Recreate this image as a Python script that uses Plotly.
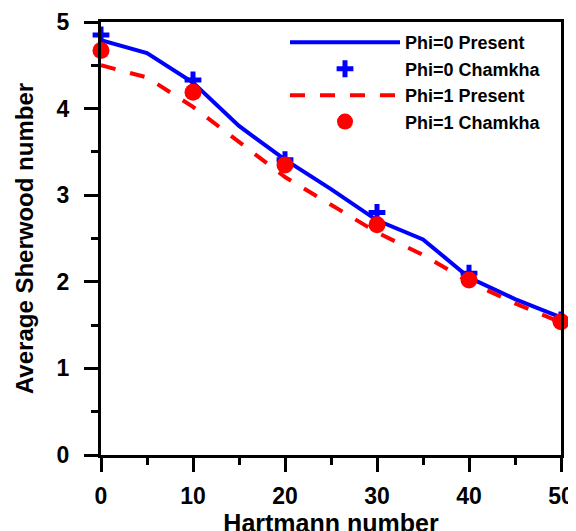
import plotly.graph_objects as go

x_line = [0, 5, 10, 15, 20, 25, 30, 35, 40, 45, 50]
phi0_present = [4.79, 4.64, 4.30, 3.80, 3.41, 3.07, 2.71, 2.49, 2.05, 1.80, 1.59]
phi1_present = [4.50, 4.36, 4.02, 3.61, 3.21, 2.89, 2.57, 2.31, 2.00, 1.75, 1.53]

x_pts = [0, 10, 20, 30, 40, 50]
phi0_chamkha = [4.85, 4.33, 3.41, 2.80, 2.10, 1.56]
phi1_chamkha = [4.67, 4.19, 3.35, 2.66, 2.02, 1.54]

BLUE = "#0000ff"
RED = "#ff0000"
FONT = "Liberation Sans, Arial, sans-serif"

fig = go.Figure()
fig.add_trace(go.Scatter(x=x_line, y=phi0_present, mode="lines", name="Phi=0 Present",
                         line=dict(color=BLUE, width=4), cliponaxis=False))
fig.add_trace(go.Scatter(x=x_pts, y=phi0_chamkha, mode="markers", name="Phi=0 Chamkha",
                         marker=dict(symbol="cross-thin", size=12, color=BLUE,
                                     line=dict(color=BLUE, width=5)), cliponaxis=False))
fig.add_trace(go.Scatter(x=x_line, y=phi1_present, mode="lines", name="Phi=1 Present",
                         line=dict(color=RED, width=4, dash="15px,15px"), cliponaxis=False))
fig.add_trace(go.Scatter(x=x_pts, y=phi1_chamkha, mode="markers", name="Phi=1 Chamkha",
                         marker=dict(symbol="circle", size=17, color=RED), cliponaxis=False))

axis_common = dict(
    showline=True, linecolor="black", linewidth=3, mirror=True,
    ticks="outside", ticklen=14, tickwidth=3, tickcolor="black",
    showgrid=False, zeroline=False, automargin=False,
    tickfont=dict(family=FONT, size=23, color="black", weight="bold"),
)

fig.update_xaxes(range=[0, 50], tickvals=[0, 10, 20, 30, 40, 50],
                 ticklabelstandoff=4,
                 minor=dict(ticks="outside", ticklen=7, tickwidth=3, tickcolor="black", dtick=5, tick0=0),
                 title=dict(text="Hartmann number", standoff=0,
                            font=dict(family=FONT, size=25, color="black", weight="bold")),
                 **axis_common)
fig.update_yaxes(range=[0, 5], tickvals=[0, 1, 2, 3, 4, 5],
                 ticklabelstandoff=10,
                 minor=dict(ticks="outside", ticklen=7, tickwidth=3, tickcolor="black", dtick=0.5, tick0=0),
                 title=dict(text="Average Sherwood number", standoff=17,
                            font=dict(family=FONT, size=24, color="black", weight="bold")),
                 **axis_common)

fig.update_layout(
    width=576, height=531,
    margin=dict(l=93, r=23, t=14, b=84),
    plot_bgcolor="white", paper_bgcolor="white",
    showlegend=True,
    legend=dict(x=0.4, y=0.995, xanchor="left", yanchor="top",
                bgcolor="rgba(0,0,0,0)", borderwidth=0,
                font=dict(family=FONT, size=18, color="black", weight="bold"),
                itemwidth=110),
)

fig.write_html("out.html")
